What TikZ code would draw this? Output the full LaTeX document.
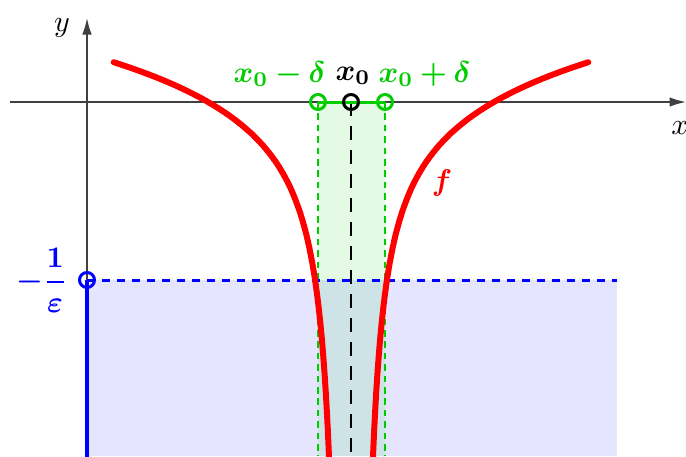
\documentclass[tikz,border=0pt]{standalone}
\usepackage{amsmath,bm}
\usetikzlibrary{arrows.meta}
\definecolor{mygreen}{RGB}{0,204,0}
\begin{document}
\begin{tikzpicture}[x=0.3333pt,y=-0.3333pt,
  axis/.style={draw=black!75, line width=0.5pt, -{Latex[length=5.5pt,width=3.2pt]}},
  curve/.style={red, line width=2pt, line cap=round},
  gdash/.style={mygreen, line width=0.6pt, dash pattern=on 2.2pt off 1.6pt},
  bdash/.style={blue, line width=1pt, dash pattern=on 2.7pt off 2.3pt},
  kdash/.style={black, line width=0.8pt, dash pattern=on 4.5pt off 3.5pt},
  dot/.style={circle, draw, line width=1pt, minimum size=5pt, inner sep=0pt},
  lab/.style={inner sep=0pt}]
\useasboundingbox (0,0) rectangle (686,456);
\coordinate (x0) at (351,102);
\coordinate (xm) at (318,102);
\coordinate (xp) at (385,102);
\coordinate (ye) at (87,280);
% regions
\fill[blue, fill opacity=0.1] (87,280) rectangle (617,456);
\fill[mygreen, fill opacity=0.1] (318,102) rectangle (385,456);
% axes
\draw[axis] (10,102) -- (686,102);
\draw[axis] (87,456) -- (87,18);
\node[lab] (ylab) at (62,28) {$y$};
\node[lab] (xlab) at (680,128) {$x$};
% dashed lines
\draw[gdash] (xm) -- (318,456);
\draw[gdash] (xp) -- (385,456);
\draw[bdash] (ye) -- (617,280);
\draw[kdash] (x0) -- (351,456);
% curve
\begin{scope}
\clip (0,0) rectangle (686,456);
\draw[curve] plot[domain=3.05:5.472, samples=220, variable=\u]
  ({351-exp(\u)}, {102 - 71.82*(\u-4.96284) + (330.48*exp(-\u))^2 - 5.341});
\draw[curve] plot[domain=3.05:5.472, samples=220, variable=\u]
  ({351+exp(\u)}, {102 - 71.82*(\u-4.96284) + (330.48*exp(-\u))^2 - 5.341});
\end{scope}
% blue segment
\draw[blue, line width=1.33pt] (ye) -- (87,460);
% green segment
\draw[mygreen, line width=1pt] (xm) -- (xp);
% circles
\node[dot, draw=mygreen] (cm) at (xm) {};
\node[dot, draw=mygreen] (cp) at (xp) {};
\node[dot, draw=black] (c0) at (x0) {};
\node[dot, draw=blue] (ce) at (ye) {};
% labels
\node[lab, anchor=base, text=mygreen] (lm) at (279.5,82) {$\boldsymbol{x_0-\delta}$};
\node[lab, anchor=base] (l0) at (353,80) {$\boldsymbol{x_0}$};
\node[lab, anchor=base, text=mygreen] (lp) at (424.5,82) {$\boldsymbol{x_0+\delta}$};
\node[lab, text=red] (fl) at (442,183) {$\boldsymbol{f}$};
\node[lab, anchor=east, text=blue] (el) at (68,280) {$\boldsymbol{-\dfrac{1}{\varepsilon}}$};
\end{tikzpicture}
\end{document}
